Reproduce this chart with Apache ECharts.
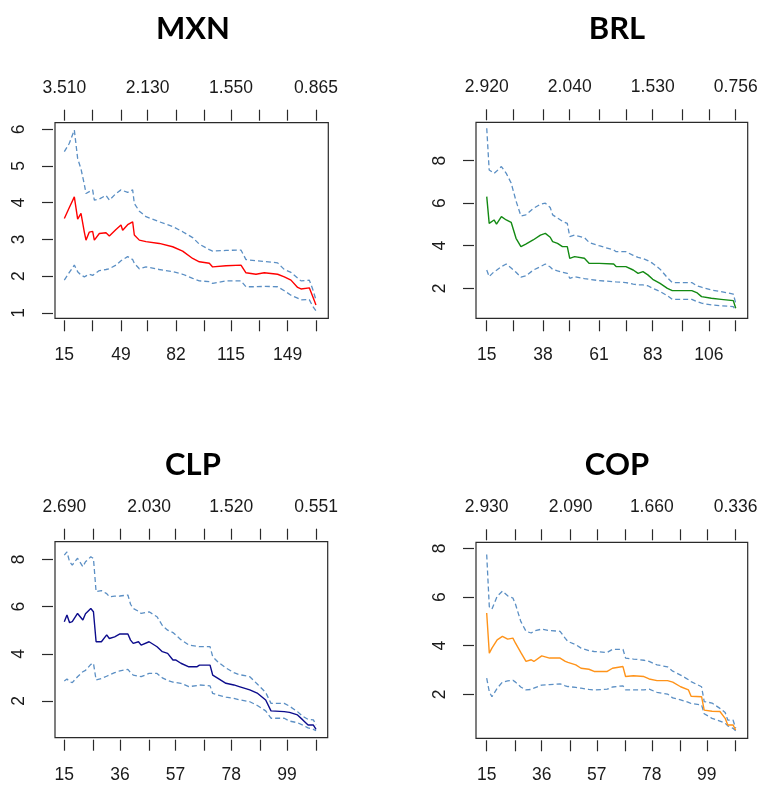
<!DOCTYPE html>
<html>
<head>
<meta charset="utf-8">
<script src="https://cdn.jsdelivr.net/npm/echarts@6/dist/echarts.min.js"></script>
<style>
html,body{margin:0;padding:0;background:#fff;}
#chart{width:763px;height:787px;}
</style>
</head>
<body>
<div id="chart"></div>
<script>
// ---------- MXN ----------
const mxnK   = [15,18,21,23,25,27,28,30,32,33,36,40,42,46,49,50,53,56,57,60,64,72,80,86,92,96,102,104,112,121,124,130,135,143,147,151,155,157,162,164,166];
const mxnEst = [3.57,3.87,4.16,3.55,3.71,3.2,2.98,3.2,3.22,2.98,3.16,3.18,3.09,3.27,3.39,3.25,3.4,3.48,3.12,2.98,2.94,2.89,2.8,2.68,2.48,2.39,2.35,2.25,2.28,2.3,2.09,2.05,2.09,2.05,1.98,1.89,1.69,1.65,1.68,1.45,1.21];
const mxnHi  = [5.39,5.62,5.98,5.2,4.92,4.5,4.25,4.3,4.35,4.07,4.1,4.2,4.07,4.25,4.35,4.3,4.28,4.35,3.98,3.77,3.62,3.48,3.35,3.21,3.05,2.87,2.72,2.68,2.7,2.71,2.45,2.42,2.4,2.36,2.18,2.1,1.95,1.87,1.89,1.65,1.35];
const mxnLo  = [1.89,2.1,2.3,2.12,2.03,1.98,1.95,2.05,2.02,1.98,2.15,2.18,2.2,2.3,2.42,2.4,2.53,2.45,2.35,2.2,2.25,2.18,2.12,2.05,1.94,1.87,1.85,1.8,1.87,1.87,1.71,1.71,1.72,1.71,1.6,1.48,1.4,1.35,1.36,1.18,1.05];
const mxnTicks  = [15,32,49,65,82,99,115,132,149,166];
const mxnTop    = ['3.510','2.130','1.550','0.865'];
const mxnYTicks = [1,2,3,4,5,6];

// ---------- BRL ----------
const brlK   = [15,16,18,19,21,23,25,27,29,31,34,37,39,41,42,44,46,48,49,51,55,57,61,67,68,72,75,77,79,81,83,86,89,91,99,101,103,107,111,116,117];
const brlEst = [6.31,5.05,5.21,5.02,5.37,5.21,5.1,4.35,3.96,4.08,4.27,4.5,4.58,4.4,4.19,4.11,3.96,3.96,3.41,3.49,3.41,3.17,3.17,3.14,3.02,3.02,2.86,2.7,2.78,2.63,2.42,2.23,2.0,1.89,1.89,1.8,1.61,1.53,1.48,1.42,1.06];
const brlHi  = [9.52,7.56,7.4,7.5,7.72,7.4,6.95,6.1,5.4,5.45,5.75,5.95,6.0,5.8,5.45,5.3,5.15,5.05,4.43,4.5,4.38,4.15,4.0,3.8,3.72,3.72,3.55,3.45,3.4,3.3,3.17,2.9,2.5,2.27,2.27,2.12,2.05,1.92,1.84,1.73,1.3];
const brlLo  = [2.86,2.55,2.78,2.85,3.02,3.14,2.95,2.75,2.52,2.58,2.85,3.02,3.14,3.0,2.89,2.82,2.76,2.7,2.47,2.55,2.45,2.42,2.36,2.31,2.3,2.27,2.2,2.16,2.16,2.12,2.0,1.85,1.65,1.48,1.48,1.38,1.3,1.22,1.18,1.14,0.95];
const brlTicks  = [15,26,38,49,61,72,83,95,106,117];
const brlTop    = ['2.920','2.040','1.530','0.756'];
const brlYTicks = [2,4,6,8];

// ---------- CLP ----------
const clpK   = [15,16,17,18,20,22,23,25,26,27,29,31,32,34,36,39,40,41,43,44,47,50,52,54,56,57,59,62,65,66,70,71,73,76,79,81,85,88,91,93,98,100,103,105,107,109,110];
const clpEst = [5.36,5.64,5.32,5.36,5.71,5.43,5.7,5.92,5.78,4.51,4.51,4.8,4.65,4.72,4.84,4.84,4.58,4.44,4.51,4.37,4.51,4.3,4.09,4.02,3.74,3.74,3.6,3.45,3.45,3.52,3.52,3.1,2.96,2.75,2.68,2.61,2.47,2.32,2.04,1.58,1.55,1.52,1.41,1.2,0.98,0.98,0.8];
const clpHi  = [8.18,8.32,7.9,7.76,8.05,7.69,7.9,8.11,8.04,6.63,6.68,6.55,6.42,6.44,6.45,6.49,6.1,5.92,5.8,5.71,5.78,5.57,5.2,5.0,4.9,4.8,4.6,4.37,4.32,4.3,4.3,3.88,3.65,3.4,3.2,3.12,3.03,2.7,2.36,1.9,1.9,1.78,1.55,1.35,1.22,1.2,0.98];
const clpLo  = [2.85,2.93,2.82,2.78,3.03,3.24,3.3,3.55,3.6,2.89,2.95,3.05,3.1,3.2,3.28,3.34,3.2,3.1,3.05,3.03,3.17,3.17,2.98,2.87,2.8,2.78,2.75,2.61,2.65,2.68,2.64,2.32,2.25,2.16,2.11,2.05,1.97,1.8,1.58,1.27,1.27,1.15,1.08,0.98,0.86,0.8,0.74];
const clpTicks  = [15,26,36,47,57,68,78,89,99,110];
const clpTop    = ['2.690','2.030','1.520','0.551'];
const clpYTicks = [2,4,6,8];

// ---------- COP ----------
const copK   = [15,16,17,19,21,23,25,26,28,30,32,33,36,39,43,45,46,49,51,54,56,61,63,67,68,71,75,77,80,84,86,89,92,93,97,98,101,104,106,107,109,110];
const copEst = [5.34,3.69,3.9,4.24,4.38,4.27,4.31,4.1,3.72,3.35,3.42,3.35,3.58,3.49,3.49,3.35,3.31,3.21,3.07,3.03,2.94,2.94,3.07,3.14,2.73,2.76,2.73,2.63,2.56,2.56,2.5,2.31,2.18,1.92,1.9,1.35,1.3,1.29,1.01,0.74,0.74,0.53];
const copHi  = [7.75,5.6,5.5,6.03,6.24,6.05,5.96,5.7,5.0,4.59,4.52,4.6,4.68,4.62,4.59,4.3,4.17,4.04,3.9,3.8,3.76,3.72,3.85,3.85,3.49,3.45,3.4,3.35,3.21,3.13,2.95,2.79,2.6,2.52,2.31,1.7,1.64,1.42,1.25,0.94,0.94,0.61];
const copLo  = [2.66,2.1,1.9,2.25,2.5,2.55,2.58,2.5,2.3,2.18,2.2,2.25,2.38,2.4,2.43,2.35,2.32,2.28,2.25,2.2,2.18,2.21,2.3,2.35,2.18,2.18,2.18,2.21,2.08,2.01,1.85,1.77,1.67,1.62,1.56,1.2,1.01,0.9,0.81,0.7,0.6,0.5];
const copTicks  = [15,26,36,47,57,68,78,89,99,110];
const copTop    = ['2.930','2.090','1.660','0.336'];
const copYTicks = [2,4,6,8];

const panels = [
  {name:'MXN', K:mxnK, est:mxnEst, hi:mxnHi, lo:mxnLo, ticks:mxnTicks, top:mxnTop, yTicks:mxnYTicks, color:'#ff0000',
   grid:{left:55, top:122.7, width:273.3, height:195.6}, x:[9.4,173.4], y:[0.85,6.18], title:[188,8]},
  {name:'BRL', K:brlK, est:brlEst, hi:brlHi, lo:brlLo, ticks:brlTicks, top:brlTop, yTicks:brlYTicks, color:'#138a13',
   grid:{left:476, top:122.3, width:271.7, height:196}, x:[10.6,121.9], y:[0.59,9.8], title:[612,8]},
  {name:'CLP', K:clpK, est:clpEst, hi:clpHi, lo:clpLo, ticks:clpTicks, top:clpTop, yTicks:clpYTicks, color:'#0c0c8c',
   grid:{left:55, top:541.7, width:272.7, height:196}, x:[11.49,114.4], y:[0.445,8.75], title:[188,444]},
  {name:'COP', K:copK, est:copEst, hi:copHi, lo:copLo, ticks:copTicks, top:copTop, yTicks:copYTicks, color:'#ff9319',
   grid:{left:476, top:542.3, width:271.7, height:196}, x:[10.92,114.6], y:[0.19,8.25], title:[612,444]}
];

const txt = '#1a1a1a';
const lblFont = {color:txt, fontFamily:'Liberation Sans', fontSize:17.5};
const ciColor = '#5b8fc4';

const option = {animation:false, backgroundColor:'#fff', title:[], grid:[], xAxis:[], yAxis:[], series:[]};

panels.forEach((p, i) => {
  option.title.push({text:p.name, left:p.title[0], top:p.title[1], textAlign:'center',
    textStyle:{fontFamily:'Lato', fontWeight:'bold', fontSize:31, color:'#000'}});
  option.grid.push(Object.assign({show:true, borderColor:'#2a2a2a', borderWidth:1.2, backgroundColor:'transparent'}, p.grid));
  const tickStyle = {show:true, length:11, lineStyle:{color:'#2a2a2a', width:1.2}};
  // bottom axis: order statistics
  option.xAxis.push({type:'value', gridIndex:i, position:'bottom', offset:2, min:p.x[0], max:p.x[1],
    axisLine:{show:false}, splitLine:{show:false},
    axisTick:Object.assign({customValues:p.ticks}, tickStyle),
    axisLabel:Object.assign({customValues:p.ticks.filter((v,j)=>j%2===0), margin:26, formatter:v=>String(v)}, lblFont)});
  // top axis: thresholds
  const topVals = [p.ticks[0], p.ticks[3], p.ticks[6], p.ticks[9]];
  option.xAxis.push({type:'value', gridIndex:i, position:'top', offset:2, min:p.x[0], max:p.x[1],
    axisLine:{show:false}, splitLine:{show:false},
    axisTick:Object.assign({customValues:p.ticks}, tickStyle),
    axisLabel:Object.assign({customValues:topVals, margin:24, formatter:v=>p.top[topVals.indexOf(v)]}, lblFont)});
  option.yAxis.push({type:'value', gridIndex:i, offset:2, min:p.y[0], max:p.y[1],
    axisLine:{show:false}, splitLine:{show:false},
    axisTick:Object.assign({customValues:p.yTicks}, tickStyle),
    axisLabel:Object.assign({customValues:p.yTicks, rotate:90, margin:25, formatter:v=>String(v)}, lblFont)});
  const xb = i*2;
  const mk = arr => p.K.map((k,j)=>[k, arr[j]]);
  option.series.push({type:'line', xAxisIndex:xb, yAxisIndex:i, data:mk(p.hi), showSymbol:false, silent:true,
    lineStyle:{color:ciColor, width:1.3, type:[5,3]}});
  option.series.push({type:'line', xAxisIndex:xb, yAxisIndex:i, data:mk(p.lo), showSymbol:false, silent:true,
    lineStyle:{color:ciColor, width:1.3, type:[5,3]}});
  option.series.push({type:'line', xAxisIndex:xb, yAxisIndex:i, data:mk(p.est), showSymbol:false, silent:true,
    lineStyle:{color:p.color, width:1.4}});
});

const chart = echarts.init(document.getElementById('chart'), null, {renderer:'canvas'});
chart.setOption(option);
</script>
</body>
</html>
